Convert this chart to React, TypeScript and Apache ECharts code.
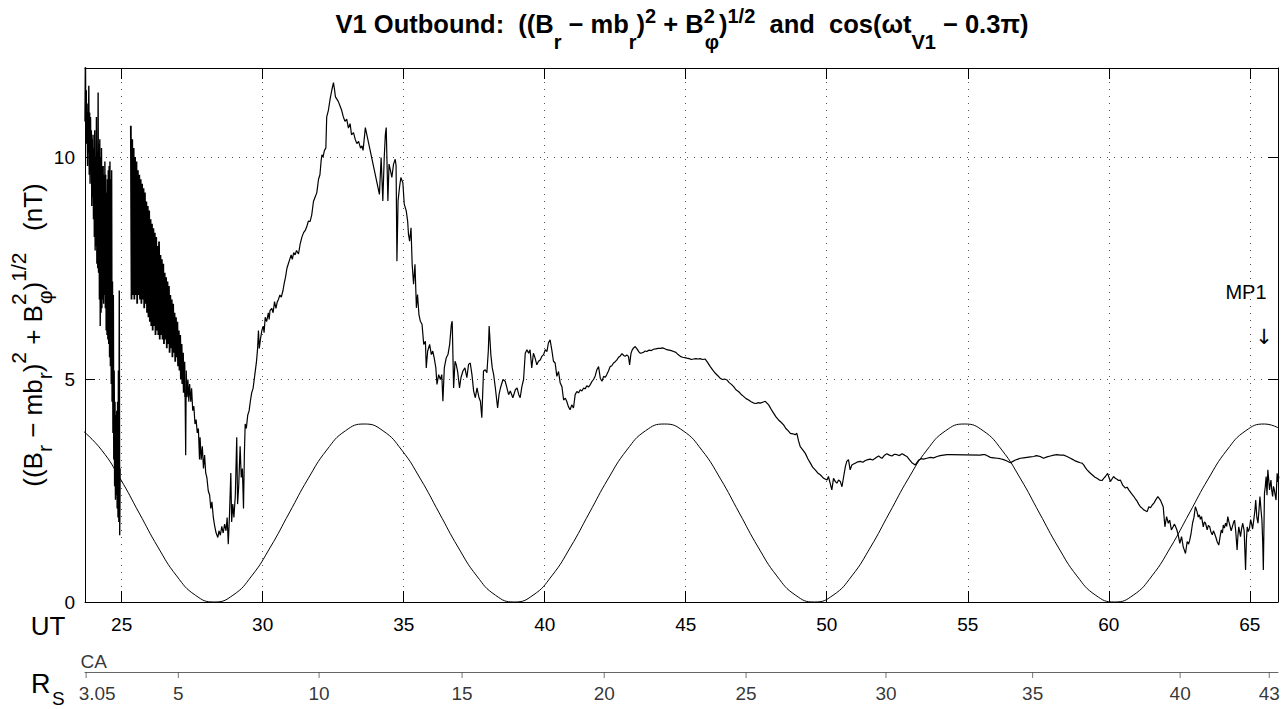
import { useEffect, useRef } from "react";
import * as echarts from "echarts";

const FONT = "Liberation Sans, Arial, Helvetica, sans-serif";

// x range (UT hours) and y range (nT)
const utMin = 23.7;
const utMax = 66.0;
const bMin = 0;
const bMax = 12;

// |B| perpendicular field: [UT, nT]
const fieldNearCA: [number, number][] = [
  [23.700,10.8],[23.715,12.3],[23.730,10.4],[23.745,11.5],[23.760,10.3],[23.775,11.0],[23.790,9.8],[23.805,11.2],[23.820,10.1],[23.835,11.6],[23.850,9.6],[23.865,11.0],[23.880,9.4],[23.895,10.9],[23.910,10.0],[23.925,10.6],[23.940,8.9],[23.955,10.4],[23.970,9.1],[23.985,10.5],[24.000,8.6],[24.015,10.2],[24.030,8.2],[24.045,10.6],[24.060,7.9],[24.075,10.0],[24.090,8.0],[24.105,10.9],[24.120,7.6],[24.135,10.1],[24.150,7.5],[24.165,11.45],[24.180,7.4],[24.195,10.3],[24.210,6.8],[24.225,10.4],[24.240,6.2],[24.255,10.0],[24.270,6.5],[24.285,10.2],[24.300,6.6],[24.315,9.8],[24.330,6.8],[24.345,9.8],[24.360,6.7],[24.375,9.6],[24.390,6.9],[24.405,9.9],[24.420,6.6],[24.435,9.6],[24.450,6.1],[24.465,9.2],[24.480,6.0],[24.495,9.5],[24.510,5.9],[24.525,9.7],[24.540,5.8],[24.555,9.8],[24.570,5.5],[24.585,9.9],[24.600,5.3],[24.615,9.5],[24.630,4.9],[24.645,9.7],[24.660,4.5],[24.675,7.2],[24.690,3.8],[24.705,6.9],[24.720,3.2],[24.735,5.2],[24.750,2.6],[24.765,4.5],[24.780,2.3],[24.795,4.2],[24.810,2.4],[24.825,4.3],[24.840,2.1],[24.855,4.5],[24.870,1.9],[24.885,5.2],[24.900,1.8],[24.915,7.0],[24.930,1.5],[24.945,3.0]
];
const fieldBand: [number, number][] = [
  [25.325,10.7],[25.35,6.8],[25.375,10.4],[25.40,6.9],[25.425,10.2],[25.45,6.8],[25.475,10.0],[25.50,6.9],[25.525,9.9],[25.55,6.7],[25.575,9.7],[25.60,6.9],[25.625,9.6],[25.65,6.8],[25.675,9.5],[25.70,6.7],[25.725,9.4],[25.75,6.8],[25.775,9.3],[25.80,6.6],[25.825,9.2],[25.85,6.7],[25.875,9.0],[25.90,6.5],[25.925,8.9],[25.95,6.4],[25.975,8.8],[26.00,6.3],[26.025,8.6],[26.05,6.2],[26.075,8.5],[26.10,6.1],[26.125,8.4],[26.15,6.2],[26.175,8.3],[26.20,6.0],[26.225,8.2],[26.25,6.1],[26.275,8.0],[26.30,6.0],[26.325,8.1],[26.35,5.9],[26.375,7.8],[26.40,6.0],[26.425,7.7],[26.45,5.9],[26.475,7.6],[26.50,5.8],[26.525,7.4],[26.55,5.9],[26.575,7.3],[26.60,5.7],[26.625,7.2],[26.65,5.8],[26.675,7.1],[26.70,5.6],[26.725,6.9],[26.75,5.7],[26.775,6.8],[26.80,5.5],[26.825,6.7],[26.85,5.6],[26.875,6.5],[26.90,5.4],[26.925,6.4],[26.95,5.5],[26.975,6.3],[27.00,5.3],[27.025,6.1],[27.05,5.2],[27.075,6.0],[27.10,5.0],[27.125,5.8],[27.15,4.9],[27.175,5.6],[27.20,4.7],[27.225,5.4],[27.25,4.6]
];
const fieldRise: [number, number][] = [
  [27.25,4.6],[27.27,3.3],[27.29,5.2],[27.32,4.6],[27.35,5.0],[27.38,4.5],[27.41,4.9],[27.45,4.5],[27.48,4.8],[27.52,4.3],[27.56,4.4],[27.60,4.0],[27.64,4.1],[27.68,3.8],[27.72,3.9],[27.76,3.2],[27.78,3.7],[27.82,3.2],[27.86,3.5],[27.90,3.0],[27.94,3.3],[27.98,2.9],[28.02,2.8],[28.07,2.5],[28.12,2.4],[28.16,2.1],[28.20,2.25],[28.25,1.9],[28.30,1.7],[28.35,1.55],[28.41,1.45],[28.45,1.6],[28.50,1.5],[28.55,1.7],[28.60,1.55],[28.65,1.75],[28.70,1.6],[28.74,1.9],[28.78,1.3],[28.82,1.9],[28.87,2.9],[28.90,1.8],[28.94,2.2],[28.98,1.9],[29.03,2.4],[29.08,3.7],[29.11,2.2],[29.15,2.6],[29.20,3.5],[29.24,2.8],[29.28,3.0],[29.32,2.1],[29.35,3.3],[29.38,4.0],[29.42,3.9],[29.47,4.2],[29.52,4.3],[29.56,4.5],[29.61,4.7],[29.66,4.8],[29.70,5.0],[29.74,5.2],[29.78,5.4],[29.82,5.7],[29.85,6.1],[29.88,5.7],[29.92,5.9],[29.97,6.1],[30.02,6.2],[30.05,6.05],[30.09,6.4],[30.14,6.3],[30.20,6.5],[30.23,6.35],[30.26,6.55],[30.32,6.6],[30.37,6.5],[30.42,6.75],[30.47,6.6],[30.52,6.75],[30.56,6.8],[30.61,6.9],[30.66,6.85],[30.72,7.0],[30.76,7.15],[30.81,7.3],[30.86,7.5],[30.91,7.6],[30.96,7.7],[31.01,7.8],[31.05,7.7],[31.10,7.85],[31.15,7.8],[31.20,7.9],[31.27,7.82],[31.33,8.05],[31.39,8.2],[31.45,8.3],[31.51,8.35],[31.57,8.45],[31.62,8.56],[31.68,8.55],[31.74,8.7],[31.80,9.0],[31.86,9.1],[31.92,9.2],[31.98,9.5],[32.03,9.6],[32.07,9.9],[32.10,10.05],[32.14,10.0],[32.19,10.15],[32.24,10.2],[32.27,10.9],[32.33,11.05],[32.39,11.3],[32.45,11.5],[32.51,11.67],[32.55,11.5],[32.58,11.35],[32.63,11.3],[32.68,11.25],[32.74,11.15],[32.80,11.05],[32.86,10.9],[32.92,10.8],[32.98,10.85],[33.04,10.65],[33.10,10.75],[33.15,10.5],[33.22,10.55],[33.28,10.4],[33.34,10.3],[33.40,10.35],[33.47,10.2],[33.52,10.25],[33.56,10.15],[33.64,10.66],
  [34.14,9.16],[34.20,9.99],[34.26,9.01],[34.31,9.99],[34.35,10.51],[34.38,10.66],[34.44,9.01],[34.48,9.84],[34.53,9.7],[34.58,9.54],[34.64,9.84],[34.70,9.95],[34.73,9.8],[34.76,7.66],[34.80,9.01],[34.85,9.31],[34.90,9.54],[34.97,9.42],[35.02,8.94],[35.09,8.79],[35.14,8.56],[35.17,8.26],[35.21,8.11],[35.26,8.41],[35.30,7.59],[35.35,7.14],[35.40,7.59],[35.45,6.61],[35.49,6.91],[35.54,6.46],[35.59,6.31],[35.65,6.24],[35.71,5.79],[35.77,5.86],[35.80,5.26],[35.85,5.64],[35.92,5.79],[35.98,5.56],[36.03,5.64],[36.08,5.49],[36.14,5.26],[36.18,4.89],[36.24,5.11],[36.30,5.0],[36.35,5.11],[36.39,4.51],[36.44,5.26],[36.51,5.49],[36.57,5.56],[36.63,5.79],[36.69,6.24],[36.72,6.31],[36.77,4.81],[36.82,5.41],[36.86,5.34],[36.91,5.19],[36.98,4.81],[37.03,5.04],[37.10,5.19],[37.17,5.26],[37.24,5.04],[37.30,5.34],[37.36,5.37],[37.42,5.11],[37.48,4.74],[37.54,4.59],[37.60,4.81],[37.67,4.59],[37.72,4.51],[37.77,4.14],[37.83,5.19],[37.89,5.22],[37.95,5.15],[38.00,5.64],[38.03,6.2],[38.09,5.56],[38.14,5.26],[38.19,5.11],[38.25,4.81],[38.33,4.36],[38.38,4.66],[38.43,4.81],[38.52,5.0],[38.60,4.96],[38.66,4.81],[38.72,4.66],[38.78,4.74],[38.87,4.59],[38.96,4.77],[39.02,4.81],[39.08,4.66],[39.13,4.59]
];
const fieldHump: [number, number][] = [
  [39.19,4.84],[39.25,5.0],[39.31,5.59],[39.37,5.67],[39.43,5.59],[39.48,5.67],[39.54,5.26],[39.60,5.59],[39.66,5.48],[39.72,5.33],[39.78,5.41],[39.84,5.44],[39.90,5.52],[39.96,5.56],[40.02,5.67],[40.08,5.63],[40.13,5.82],[40.19,5.89],[40.25,5.67],[40.31,5.41],[40.37,5.37],[40.43,5.07],[40.49,5.18],[40.55,4.92],[40.61,4.84],[40.67,4.54],[40.73,4.58],[40.78,4.51],[40.84,4.39],[40.90,4.32],[40.96,4.43],[41.02,4.36],[41.08,4.66],[41.14,4.73],[41.20,4.70],[41.26,4.77],[41.32,4.74],[41.38,4.81],[41.44,4.79],[41.49,4.86],[41.55,4.83],[41.61,4.88],[41.67,4.95],[41.73,5.0],[41.79,5.08],[41.85,5.22],[41.91,5.29],[41.97,5.03],[42.03,4.96],[42.09,5.07],[42.15,5.05],[42.20,5.11],[42.26,5.19],[42.32,5.29],[42.38,5.31],[42.44,5.37],[42.50,5.40],[42.56,5.44],[42.62,5.50],[42.68,5.53],[42.74,5.58],[42.80,5.54],[42.85,5.52],[42.91,5.55],[42.97,5.52],[43.01,5.33],[43.06,5.59],[43.10,5.66],[43.15,5.71],[43.21,5.74],[43.29,5.67],[43.34,5.62],[43.39,5.59],[43.45,5.60],[43.50,5.61],[43.56,5.64],[43.62,5.63],[43.70,5.66],[43.78,5.65],[43.86,5.68],[43.94,5.69],[44.02,5.70],[44.10,5.70],[44.18,5.71],[44.26,5.69],[44.33,5.67],[44.41,5.66],[44.49,5.65],[44.57,5.63],[44.65,5.61],[44.73,5.56],[44.81,5.52],[44.89,5.50],[44.97,5.49],[45.04,5.48],[45.12,5.47],[45.20,5.45],[45.28,5.46],[45.36,5.47],[45.44,5.46],[45.51,5.47],[45.60,5.45],[45.69,5.46],[45.78,5.38],[45.87,5.29],[45.96,5.21],[46.05,5.14],[46.13,5.09],[46.22,5.03],[46.30,5.00],[46.38,5.01],[46.46,4.99],[46.54,4.93],[46.62,4.89],[46.70,4.84],[46.78,4.77],[46.87,4.73],[46.96,4.67],[47.05,4.62],[47.14,4.57],[47.23,4.54],[47.32,4.50],[47.41,4.47],[47.50,4.46],[47.57,4.48],[47.64,4.47],[47.73,4.49],[47.82,4.51],[47.94,4.43],[48.03,4.33],[48.12,4.24],[48.20,4.16],[48.29,4.09],[48.38,4.04],[48.47,3.98],[48.55,3.90],[48.63,3.85],[48.71,3.79],[48.80,3.78],[48.88,3.76],[48.94,3.79],[49.00,3.62],[49.06,3.49],[49.15,3.42],[49.24,3.34],[49.33,3.22],[49.42,3.12],[49.50,3.03],[49.59,2.97],[49.68,2.90],[49.77,2.86]
];
const fieldPlateau: [number, number][] = [
  [49.89,2.78],[50.01,2.74],[50.06,2.82],[50.12,2.67],[50.18,2.52],[50.24,2.78],[50.30,2.71],[50.36,2.67],[50.42,2.74],[50.48,2.71],[50.54,2.59],[50.60,2.82],[50.66,3.04],[50.71,3.16],[50.77,3.2],[50.83,2.97],[50.89,3.08],[50.95,3.10],[51.01,3.12],[51.10,3.15],[51.19,3.16],[51.28,3.14],[51.37,3.18],[51.46,3.20],[51.54,3.21],[51.63,3.19],[51.72,3.23],[51.78,3.26],[51.84,3.28],[51.90,3.25],[51.96,3.23],[52.05,3.30],[52.13,3.33],[52.22,3.30],[52.31,3.28],[52.40,3.32],[52.49,3.31],[52.58,3.29],[52.67,3.33],[52.76,3.30],[52.84,3.27],[52.93,3.20],[53.02,3.13],[53.14,3.08],[53.26,3.19],[53.35,3.22],[53.43,3.21],[53.55,3.23],[53.67,3.25],[53.79,3.24],[53.91,3.27],[54.02,3.29],[54.14,3.30],[54.26,3.31],[54.38,3.31],[55.44,3.30],[55.53,3.31],[55.62,3.31],[55.71,3.28],[55.80,3.25],[55.92,3.24],[56.04,3.23],[56.15,3.22],[56.27,3.2],[56.39,3.17],[56.51,3.13],[56.60,3.16],[56.69,3.19],[56.78,3.21],[56.86,3.23],[56.98,3.24],[57.10,3.25],[57.22,3.26],[57.34,3.27],[57.43,3.29],[57.51,3.28],[57.60,3.26],[57.69,3.23],[57.81,3.26],[57.93,3.28],[58.05,3.30],[58.16,3.31],[58.28,3.30],[58.40,3.30],[58.52,3.27],[58.64,3.23],[58.73,3.20],[58.81,3.17],[58.90,3.15],[58.99,3.13],[59.05,3.12],[59.11,3.08],[59.17,3.02],[59.23,2.97],[59.32,2.91],[59.41,2.86],[59.50,2.81],[59.58,2.78],[59.67,2.74],[59.76,2.73],[59.82,2.78],[59.88,2.82],[59.96,2.89],[60.01,2.79],[60.06,2.71],[60.12,2.77],[60.17,2.82],[60.23,2.78],[60.29,2.76],[60.35,2.73],[60.41,2.74]
];
const fieldTail: [number, number][] = [
  [60.50,2.62],[60.59,2.56],[60.65,2.58],[60.71,2.52],[60.80,2.44],[60.89,2.37],[60.95,2.31],[61.01,2.26],[61.06,2.20],[61.12,2.14],[61.18,2.11],[61.24,2.07],[61.30,2.05],[61.36,2.03],[61.42,2.14],[61.48,2.12],[61.54,2.18],[61.60,2.22],[61.66,2.29],[61.74,2.37],[61.83,2.29],[61.93,2.14],[61.99,1.69],[62.05,1.92],[62.11,1.77],[62.16,1.84],[62.22,1.62],[62.28,1.69],[62.33,1.75],[62.37,1.69],[62.41,1.63],[62.45,1.54],[62.52,1.32],[62.58,1.47],[62.64,1.24],[62.72,1.09],[62.78,1.36],[62.83,1.30],[62.87,1.39],[62.92,1.55],[62.97,1.77],[63.02,1.90],[63.07,2.14],[63.13,2.03],[63.17,1.91],[63.21,1.96],[63.25,1.86],[63.29,1.92],[63.35,1.69],[63.39,1.80],[63.43,1.77],[63.49,1.62],[63.53,1.72],[63.58,1.69],[63.62,1.58],[63.67,1.51],[63.71,1.60],[63.75,1.54],[63.80,1.45],[63.84,1.36],[63.90,1.28],[63.95,1.48],[63.99,1.62],[64.03,1.55],[64.06,1.73],[64.10,1.66],[64.14,1.77],[64.18,1.70],[64.22,1.92],[64.26,1.80],[64.29,1.73],[64.34,1.60],[64.38,1.69],[64.42,1.78],[64.46,1.84],[64.50,1.60],[64.55,1.17],[64.58,1.50],[64.61,1.69],[64.64,1.58],[64.67,1.47],[64.71,1.65],[64.75,1.77],[64.80,1.60],[64.85,0.72],[64.88,1.40],[64.91,1.69],[64.95,1.58],[64.99,1.66],[65.03,1.85],[65.06,1.77],[65.10,1.64],[65.14,1.84],[65.18,2.05],[65.21,2.29],[65.25,1.90],[65.29,1.77],[65.33,2.10],[65.36,2.37],[65.40,2.05],[65.43,1.84],[65.46,1.30],[65.48,0.72],[65.50,1.60],[65.52,2.44],[65.55,2.60],[65.58,2.82],[65.61,2.40],[65.64,2.97],[65.67,2.75],[65.70,2.52],[65.72,2.62],[65.75,2.74],[65.78,2.50],[65.81,2.37],[65.84,2.60],[65.87,2.52],[65.90,2.40],[65.93,2.29],[65.95,2.60],[65.97,2.89],[66.00,2.70],[66.03,2.82]
];

// cos(ωt_V1 − 0.3π) curve, drawn on the 0–4 scale used in the picture: [UT, value]
const cosCurve: [number, number][] = [
  [23.625,3.848],[24.29,3.414],[24.955,2.765],[25.62,2.0],[26.285,1.235],[26.95,0.586],[27.615,0.152],[28.28,0.0],[28.945,0.152],[29.61,0.586],[30.275,1.235],[30.94,2.0],[31.605,2.765],[32.27,3.414],[32.935,3.848],[33.60,4.0],[34.265,3.848],[34.93,3.414],[35.595,2.765],[36.26,2.0],[36.925,1.235],[37.59,0.586],[38.255,0.152],[38.92,0.0],[39.585,0.152],[40.25,0.586],[40.915,1.235],[41.58,2.0],[42.245,2.765],[42.91,3.414],[43.575,3.848],[44.24,4.0],[44.905,3.848],[45.57,3.414],[46.235,2.765],[46.90,2.0],[47.565,1.235],[48.23,0.586],[48.895,0.152],[49.56,0.0],[50.225,0.152],[50.89,0.586],[51.555,1.235],[52.22,2.0],[52.885,2.765],[53.55,3.414],[54.215,3.848],[54.88,4.0],[55.545,3.848],[56.21,3.414],[56.875,2.765],[57.54,2.0],[58.205,1.235],[58.87,0.586],[59.535,0.152],[60.20,0.0],[60.865,0.152],[61.53,0.586],[62.195,1.235],[62.86,2.0],[63.525,2.765],[64.19,3.414],[64.855,3.848],[65.52,4.0],[66.185,3.848]
];

// Radial distance (R_S) scale: labels and the UT at which each is reached
const rsLabels = ["3.05", "5", "10", "15", "20", "25", "30", "35", "40", "43"];
const rsUT = [23.74, 27.01, 32.0, 37.07, 42.11, 47.14, 52.1, 57.3, 62.53, 65.69];
const caLabel = "CA";

const fieldSmooth = ([] as [number, number][]).concat(fieldRise, fieldHump, fieldPlateau, fieldTail);

export default function App() {
  const ref = useRef<HTMLDivElement>(null);

  useEffect(() => {
    if (!ref.current) return;
    const chart = echarts.init(ref.current, undefined, { renderer: "svg" });

    const tFill = "#000";
    const titleRich: any = {
      m: { fontFamily: FONT, fontSize: 25.5, fontWeight: "bold", lineHeight: 56, align: "left", fill: tFill },
      sp: { fontFamily: FONT, fontSize: 20, fontWeight: "bold", verticalAlign: "top", padding: [10, 0, 0, 0], align: "left", fill: tFill },
      sz: { fontFamily: FONT, fontSize: 20, fontWeight: "bold", verticalAlign: "top", padding: [10, 0, 0, 0], align: "left", width: 1, fill: tFill },
      sb: { fontFamily: FONT, fontSize: 20, fontWeight: "bold", verticalAlign: "bottom", align: "left", fill: tFill },
    };
    const ylRich: any = {
      m: { fontFamily: FONT, fontSize: 26, lineHeight: 50, align: "left", fill: tFill },
      sp: { fontFamily: FONT, fontSize: 21, verticalAlign: "top", align: "left", fill: tFill },
      sz: { fontFamily: FONT, fontSize: 21, verticalAlign: "top", align: "left", width: 1, fill: tFill },
      sb: { fontFamily: FONT, fontSize: 21, verticalAlign: "bottom", padding: [0, 0, 3, 0], align: "left", fill: tFill },
    };

    const titleText =
      "{m|V1 Outbound:  ((B}{sb|r}{m| − mb}{sb|r}{m|)}{sp|2}{m| + B}{sz|2}{sb|φ}{m|)}{sp|1/2}{m|  and  cos(ωt}{sb|V1}{m| − 0.3π)}";
    const yText =
      "{m|((B}{sb|r}{m| − mb}{sb|r}{m|)}{sp|2}{m| + B}{sz|2}{sb|φ}{m|)}{sp|1/2}{m|   (nT)}";

    const fmt5 = (v: number) => (Math.abs(v % 5) < 1e-9 ? String(v) : "");

    const lineBase = { type: "line", xAxisIndex: 0, yAxisIndex: 0, showSymbol: false, symbol: "none", silent: true };

    const option: any = {
      animation: false,
      backgroundColor: "#fff",
      grid: [
        { left: 85, top: 68, width: 1193, height: 534 },
        { left: 85, top: 662, width: 1193, height: 10 },
      ],
      xAxis: [
        {
          gridIndex: 0, type: "value", min: utMin, max: utMax, splitNumber: 8, position: "bottom",
          axisLine: { onZero: false, lineStyle: { color: "#000", width: 1 } },
          axisTick: { inside: true, length: 11, lineStyle: { color: "#000" } },
          axisLabel: { formatter: fmt5, fontSize: 19, fontFamily: FONT, color: "#000", margin: 13 },
          splitLine: { show: true, lineStyle: { color: "#555", width: 1, type: [1, 6] } },
        },
        {
          gridIndex: 0, type: "value", min: utMin, max: utMax, splitNumber: 8, position: "top",
          axisLine: { onZero: false, lineStyle: { color: "#000", width: 1 } },
          axisTick: { inside: true, length: 11, lineStyle: { color: "#000" } },
          axisLabel: { show: false }, splitLine: { show: false },
        },
        {
          gridIndex: 1, type: "value", min: utMin, max: utMax, position: "bottom",
          axisLine: { onZero: false, lineStyle: { color: "#666", width: 1 } },
          axisTick: { show: false }, axisLabel: { show: false }, splitLine: { show: false },
        },
      ],
      yAxis: [
        {
          gridIndex: 0, type: "value", min: bMin, max: bMax, interval: 5, position: "left",
          axisLine: { onZero: false, lineStyle: { color: "#000", width: 1 } },
          axisTick: { inside: true, length: 10, lineStyle: { color: "#000" } },
          axisLabel: { formatter: fmt5, fontSize: 19, fontFamily: FONT, color: "#000", margin: 10 },
          splitLine: { show: true, lineStyle: { color: "#555", width: 1, type: [1, 6] } },
        },
        {
          gridIndex: 0, type: "value", min: bMin, max: bMax, interval: 5, position: "right",
          axisLine: { onZero: false, lineStyle: { color: "#000", width: 1 } },
          axisTick: { inside: true, length: 10, lineStyle: { color: "#000" } },
          axisLabel: { show: false }, splitLine: { show: false },
        },
        { gridIndex: 1, type: "value", min: 0, max: 1, show: false },
      ],
      series: [
        { ...lineBase, name: "cos", data: cosCurve, smooth: true, lineStyle: { color: "#000", width: 1 } },
        { ...lineBase, name: "B near CA", data: fieldNearCA, lineStyle: { color: "#000", width: 1.4 } },
        { ...lineBase, name: "B band", data: fieldBand, lineStyle: { color: "#000", width: 1.8 } },
        { ...lineBase, name: "B", data: fieldSmooth, lineStyle: { color: "#000", width: 1.2 } },
        {
          type: "scatter", name: "Rs", xAxisIndex: 2, yAxisIndex: 2, silent: true,
          symbol: "rect", symbolSize: [1, 6], symbolOffset: [0, 3],
          itemStyle: { color: "#555" },
          data: rsUT.map((u, i) => ({
            value: [u, 0],
            label: {
              show: true, position: "inside", offset: [i === 0 ? 11 : 0, 18],
              formatter: rsLabels[i], color: "#000", fontSize: 19, fontFamily: FONT,
            },
          })),
        },
        {
          type: "scatter", name: "CA", xAxisIndex: 2, yAxisIndex: 2, silent: true,
          symbol: "rect", symbolSize: 1, itemStyle: { color: "rgba(0,0,0,0)" },
          data: [{
            value: [rsUT[0], 0],
            label: { show: true, position: "inside", offset: [7.5, -11], formatter: caLabel, color: "#000", fontSize: 19, fontFamily: FONT },
          }],
        },
      ],
      graphic: [
        {
          type: "text", x: 682, y: -4, silent: true,
          style: { text: titleText, rich: titleRich, align: "center", verticalAlign: "top", textAlign: "center", textVerticalAlign: "top" },
        },
        {
          type: "text", x: 33, y: 335, rotation: Math.PI / 2, silent: true,
          style: { text: yText, rich: ylRich, align: "center", verticalAlign: "middle", textAlign: "center", textVerticalAlign: "middle" },
        },
        {
          type: "text", x: 48, y: 626, silent: true,
          style: { text: "UT", fontFamily: FONT, fontSize: 26, fill: "#000", align: "center", verticalAlign: "middle", textAlign: "center", textVerticalAlign: "middle" },
        },
        {
          type: "text", x: 31, y: 684, silent: true,
          style: { text: "R", fontFamily: FONT, fontSize: 27, fill: "#000", align: "left", verticalAlign: "middle", textAlign: "left", textVerticalAlign: "middle" },
        },
        {
          type: "text", x: 52, y: 698, silent: true,
          style: { text: "S", fontFamily: FONT, fontSize: 19, fill: "#000", align: "left", verticalAlign: "middle", textAlign: "left", textVerticalAlign: "middle" },
        },
        {
          type: "text", x: 1246, y: 292, silent: true,
          style: { text: "MP1", fontFamily: FONT, fontSize: 20, fill: "#000", align: "center", verticalAlign: "middle", textAlign: "center", textVerticalAlign: "middle" },
        },
        {
          type: "text", x: 1264, y: 337, silent: true,
          style: { text: "↓", fontFamily: "DejaVu Sans, " + FONT, fontSize: 21, fill: "#000", align: "center", verticalAlign: "middle", textAlign: "center", textVerticalAlign: "middle" },
        },
      ],
    };

    chart.setOption(option);
    return () => chart.dispose();
  }, []);

  return (
    <div
      ref={ref}
      style={{ position: "absolute", left: 0, top: 0, width: 1287, height: 709, background: "#fff" }}
    />
  );
}
